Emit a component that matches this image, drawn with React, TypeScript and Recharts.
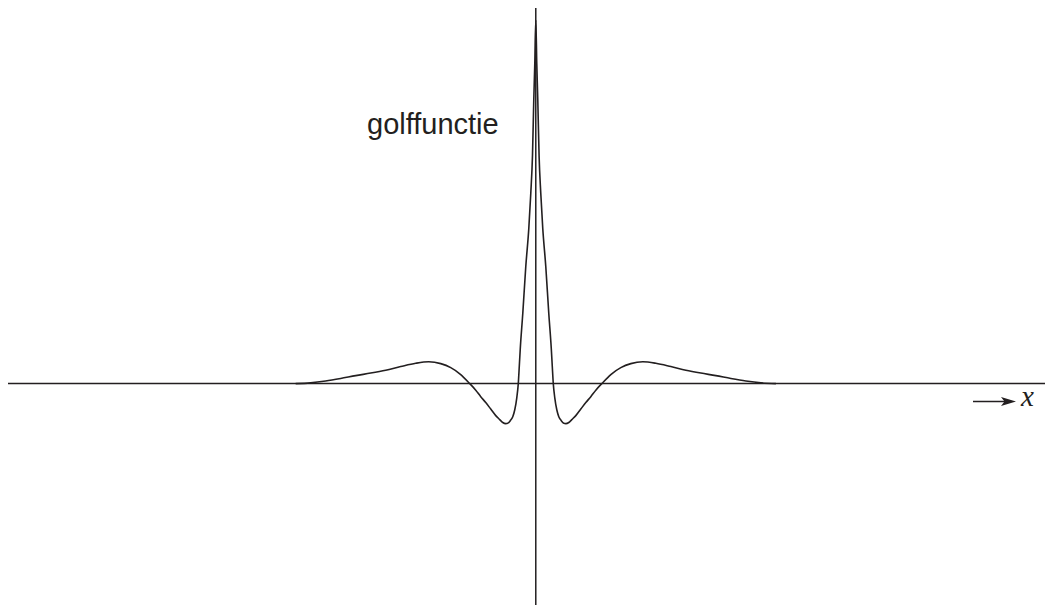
import { Customized, Line, LineChart, ReferenceLine, XAxis, YAxis } from "recharts";

// golffunctie: x-waarden (links naar rechts) en bijbehorende hoogtes
const xValues = [
  -20, -18.75, -17.5, -16.25, -15, -13.75, -12.5, -11.25, -10, -8.917, -7.917, -7.083, -6.25,
  -5.5, -5.0, -4.583, -4.167, -3.75, -3.333, -3.0, -2.75, -2.5, -2.333, -2.125, -1.917, -1.75,
  -1.583, -1.458, -1.375, -1.292, -1.083, -0.833, -0.583, -0.417, -0.275, -0.167, -0.083,
  0,
  0.083, 0.167, 0.275, 0.417, 0.583, 0.833, 1.083, 1.292, 1.375, 1.458, 1.583, 1.75, 1.917,
  2.125, 2.333, 2.5, 2.75, 3.0, 3.333, 3.75, 4.167, 4.583, 5.0, 5.5, 6.25, 7.083, 7.917, 8.917,
  10, 11.25, 12.5, 13.75, 15, 16.25, 17.5, 18.75, 20,
];
const yValues = [
  0, 0.002, 0.007, 0.014, 0.022, 0.029, 0.037, 0.047, 0.056, 0.06, 0.055, 0.044, 0.025,
  0, -0.018, -0.036, -0.052, -0.07, -0.088, -0.099, -0.107, -0.11, -0.109, -0.102, -0.091, -0.072,
  -0.039, 0, 0.047, 0.096, 0.193, 0.322, 0.426, 0.523, 0.627, 0.78, 0.88,
  1.0,
  0.88, 0.78, 0.627, 0.523, 0.426, 0.322, 0.193, 0.096, 0.047, 0, -0.039, -0.072, -0.091,
  -0.102, -0.109, -0.11, -0.107, -0.099, -0.088, -0.07, -0.052, -0.036, -0.018, 0, 0.025, 0.044, 0.055, 0.06,
  0.056, 0.047, 0.037, 0.029, 0.022, 0.014, 0.007, 0.002, 0,
];

const curve = xValues.map((x, i) => ({ x, y: yValues[i] }));

const INK = "#231f20";

const Annotations = () => (
  <g>
    <text x={359} y={127} fontFamily="'Liberation Sans', Arial, sans-serif" fontSize={29} fill={INK}>
      golffunctie
    </text>
    <line x1={965} y1={394.5} x2={998} y2={394.5} stroke={INK} strokeWidth={1.5} />
    <polygon points="1008,394.5 993,390 996.5,394.5 993,399" fill={INK} />
    <text
      x={1013}
      y={399}
      fontFamily="'Liberation Serif', 'Times New Roman', serif"
      fontStyle="italic"
      fontSize={29}
      fill={INK}
    >
      x
    </text>
  </g>
);

export default function App() {
  return (
    <div style={{ width: 1045, height: 598, marginTop: -1 }}>
      <LineChart width={1045} height={598} data={curve} margin={{ top: 0, right: 0, bottom: 0, left: 0 }}>
        <XAxis dataKey="x" type="number" domain={[-43.96, 43.08]} allowDataOverflow hide />
        <YAxis type="number" domain={[-0.609, 1.036]} allowDataOverflow hide />
        <ReferenceLine y={0} stroke={INK} strokeWidth={1.5} />
        <ReferenceLine x={0} stroke={INK} strokeWidth={1.5} />
        <Line
          type="monotone"
          dataKey="y"
          stroke={INK}
          strokeWidth={1.6}
          dot={false}
          isAnimationActive={false}
        />
        <Customized component={Annotations} />
      </LineChart>
    </div>
  );
}
